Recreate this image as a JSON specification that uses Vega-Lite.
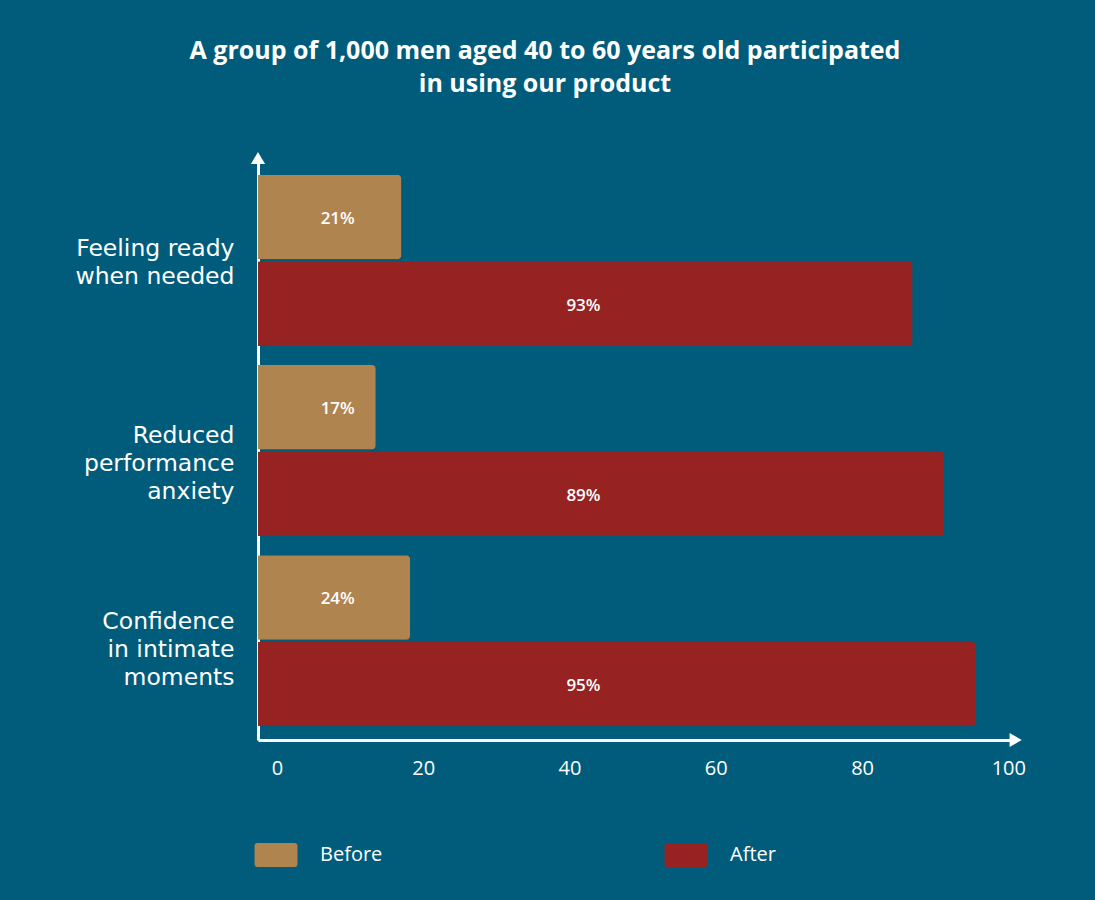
{
  "$schema": "https://vega.github.io/schema/vega-lite/v6.json",
  "autosize": {"type": "none"},
  "width": 754,
  "height": 582,
  "padding": {"left": 258, "top": 158, "right": 83, "bottom": 160},
  "background": "#005c7a",
  "title": {
    "text": ["A group of 1,000 men aged 40 to 60 years old participated", "in using our product"],
    "font": "Open Sans",
    "fontSize": 25,
    "fontWeight": "bold",
    "color": "white",
    "anchor": "middle",
    "frame": "group",
    "dx": -90,
    "offset": 55,
    "lineHeight": 33
  },
  "config": {
    "view": {"stroke": null},
    "axis": {"grid": false, "ticks": false, "domainColor": "white", "domainWidth": 3, "labelColor": "white", "labelFont": "Open Sans", "title": null},
    "legend": {"labelFont": "Open Sans"}
  },
  "data": {
    "values": [
      {"category": "Feeling ready when needed", "period": "Before", "value": 19.6, "label": "21%"},
      {"category": "Feeling ready when needed", "period": "After", "value": 89.5, "label": "93%"},
      {"category": "Reduced performance anxiety", "period": "Before", "value": 16.1, "label": "17%"},
      {"category": "Reduced performance anxiety", "period": "After", "value": 93.8, "label": "89%"},
      {"category": "Confidence in intimate moments", "period": "Before", "value": 20.8, "label": "24%"},
      {"category": "Confidence in intimate moments", "period": "After", "value": 98.1, "label": "95%"}
    ]
  },
  "layer": [
    {
      "encoding": {
        "y": {
          "field": "category",
          "type": "nominal",
          "sort": ["Feeling ready when needed", "Reduced performance anxiety", "Confidence in intimate moments"],
          "scale": {"paddingInner": 0.1, "paddingOuter": 0.08, "align": 0.55},
          "axis": {
            "labelFont": "DejaVu Sans",
            "labelFontSize": 23.5,
            "labelFontWeight": 400,
            "labelPadding": 24,
            "labelLineHeight": 28,
            "labelLimit": 300,
            "labelOffset": {
              "condition": [
                {"test": "datum.value == 'Confidence in intimate moments'", "value": -19},
                {"test": "datum.value == 'Reduced performance anxiety'", "value": -15}
              ],
              "value": -11
            },
            "labelExpr": "datum.value == 'Feeling ready when needed' ? ['Feeling ready', 'when needed'] : datum.value == 'Reduced performance anxiety' ? ['Reduced', 'performance', 'anxiety'] : ['Confidence', 'in intimate', 'moments']"
          }
        },
        "yOffset": {
          "field": "period",
          "type": "nominal",
          "sort": ["Before", "After"],
          "scale": {"paddingInner": 0.023, "paddingOuter": 0}
        }
      },
      "layer": [
        {
          "mark": {"type": "bar", "cornerRadiusEnd": 4},
          "encoding": {
            "x": {
              "field": "value",
              "type": "quantitative",
              "scale": {"domain": [0, 103.1], "nice": false, "zero": true},
              "axis": {"values": [0, 20, 40, 60, 80, 100], "labelFontSize": 20, "labelPadding": 18, "labelOffset": 19, "labelFlush": false}
            },
            "color": {
              "field": "period",
              "type": "nominal",
              "sort": ["Before", "After"],
              "scale": {"domain": ["Before", "After"], "range": ["#b0844f", "#962222"]},
              "legend": {
                "title": null,
                "orient": "bottom",
                "direction": "horizontal",
                "offset": 65,
                "padding": 0,
                "symbolType": "M-1.54,-1 L1.54,-1 Q1.79,-1 1.79,-0.75 L1.79,0.75 Q1.79,1 1.54,1 L-1.54,1 Q-1.79,1 -1.79,0.75 L-1.79,-0.75 Q-1.79,-1 -1.54,-1 Z",
                "symbolSize": 576,
                "symbolOpacity": 1,
                "symbolStrokeWidth": 0,
                "symbolOffset": 6,
                "labelOffset": 32,
                "labelFontSize": 20,
                "labelColor": "white",
                "columnPadding": 281
              }
            }
          }
        },
        {
          "transform": [{"filter": "datum.period == 'Before'"}],
          "mark": {"type": "text", "color": "white", "font": "Open Sans", "fontSize": 17, "fontWeight": 600, "dy": 2},
          "encoding": {
            "x": {"datum": 10.9, "type": "quantitative"},
            "text": {"field": "label", "type": "nominal"}
          }
        },
        {
          "transform": [{"filter": "datum.period == 'After'"}],
          "mark": {"type": "text", "color": "white", "font": "Open Sans", "fontSize": 17, "fontWeight": 600, "dy": 2},
          "encoding": {
            "x": {"datum": 44.5, "type": "quantitative"},
            "text": {"field": "label", "type": "nominal"}
          }
        }
      ]
    },
    {
      "data": {"values": [{"arrow": "up"}]},
      "mark": {"type": "point", "shape": "triangle-up", "filled": true, "color": "white", "size": 200, "opacity": 1},
      "encoding": {
        "x": {"datum": 0, "type": "quantitative"},
        "y": {"datum": 1, "type": "quantitative", "scale": {"domain": [0, 1]}, "axis": null}
      }
    },
    {
      "data": {"values": [{"arrow": "right"}]},
      "mark": {"type": "point", "shape": "triangle-right", "filled": true, "color": "white", "size": 200, "opacity": 1},
      "encoding": {
        "x": {"datum": 103.6, "type": "quantitative"},
        "y": {"datum": 0, "type": "quantitative", "scale": {"domain": [0, 1]}, "axis": null}
      }
    }
  ],
  "resolve": {"scale": {"y": "independent"}}
}
